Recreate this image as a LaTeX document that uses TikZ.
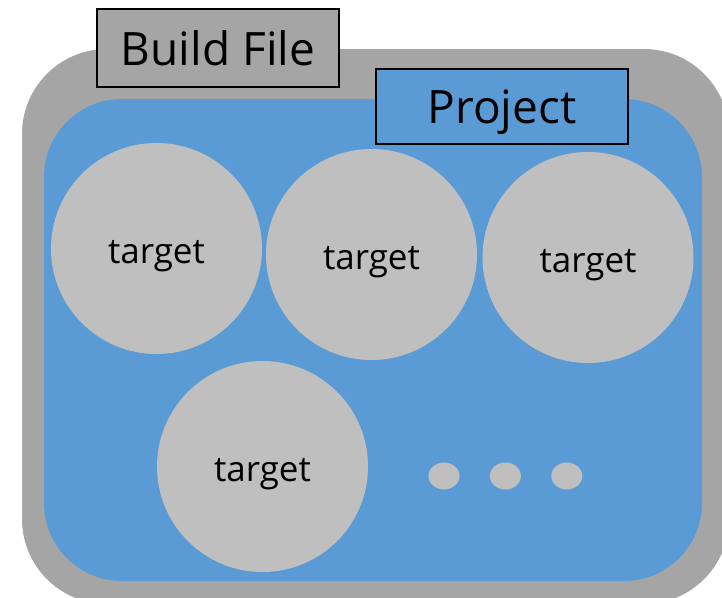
\documentclass[tikz,border=0pt]{standalone}
\usepackage{fontspec}
\setmainfont{Open Sans}
\usetikzlibrary{positioning}

\definecolor{filegray}{HTML}{A5A5A5}
\definecolor{projblue}{HTML}{5B9BD5}
\definecolor{targetgray}{HTML}{BFBFBF}

\begin{document}
\begin{tikzpicture}[x=1pt,y=-1pt,node distance=61pt,
    target node/.style={circle,fill=targetgray,minimum size=211pt,inner sep=0pt,text height=29pt,text depth=0pt,font=\fontsize{35}{40}\selectfont},
    dot node/.style={ellipse,fill=targetgray,minimum width=31pt,minimum height=27pt,inner sep=0pt},
    title box/.style={draw=black,line width=1.5pt,inner sep=0pt,text height=34pt,text depth=0pt,font=\fontsize{46}{52}\selectfont}]
            \usetikzlibrary{shapes.geometric}
            \useasboundingbox (0,0) rectangle (722,597);
            \clip (0,0) rectangle (722,597);

            % build file and project areas
            \fill[filegray, rounded corners=85pt] (22,49) rectangle (729,604);
            \fill[projblue, rounded corners=78pt] (44,99) rectangle (702,581);

            \node[title box, fill=filegray, minimum width=242pt, minimum height=78pt] (file) at (218,48) {Build File};
            \node[title box, fill=projblue, minimum width=252pt, minimum height=75pt] (project) at (502,106.5) {Project};

            \node[target node] (1) at (156.5,248.5) {target};
            \node[target node] (2) at (371.5,254.5) {target};
            \node[target node] (3) at (588,257.5) {target};
            \node[target node] (4) at (262.5,466.5) {target};

            \node[dot node] (5) at (444,476) {};
            \node[dot node] (6)[right=30pt of 5] {};
            \node[dot node] (7)[right=30pt of 6] {};
        \end{tikzpicture}
\end{document}
